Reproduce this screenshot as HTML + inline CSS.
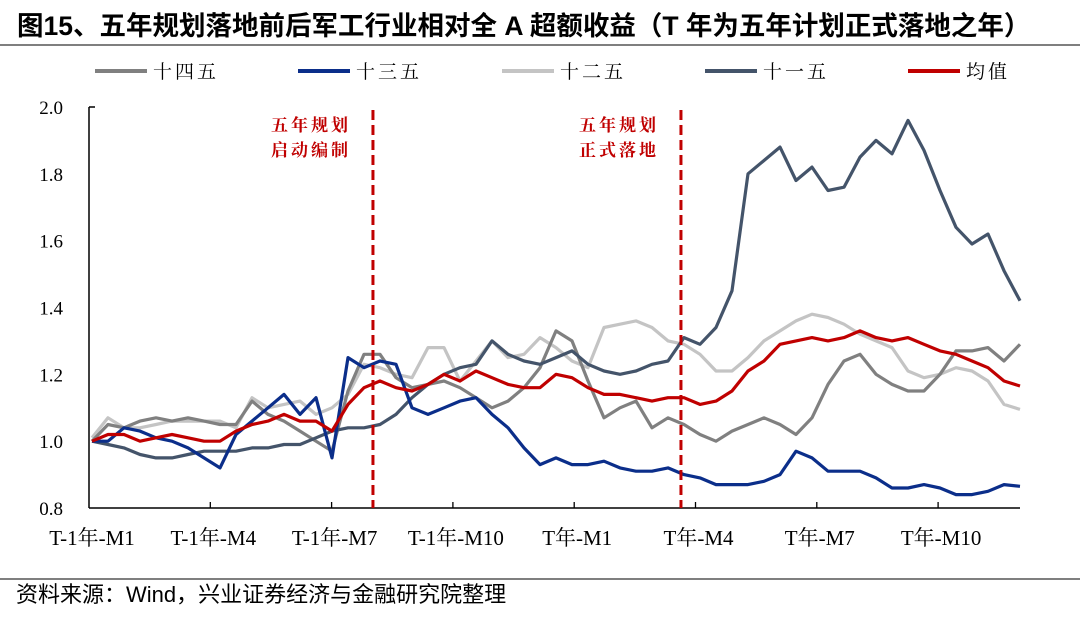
<!DOCTYPE html>
<html><head><meta charset="utf-8">
<style>
html,body{margin:0;padding:0;background:#fff;}
body{width:1080px;height:612px;overflow:hidden;position:relative;font-family:"Liberation Sans","Noto Sans CJK SC",sans-serif;}
</style></head>
<body>
<svg id="chart" width="1080" height="612" xmlns="http://www.w3.org/2000/svg">
<text x="17" y="35" font-size="26.5" font-weight="bold" fill="#000" font-family="Liberation Sans, Noto Sans CJK SC, sans-serif">图15、五年规划落地前后军工行业相对全 A 超额收益（T 年为五年计划正式落地之年）</text>
<line x1="0" y1="45" x2="1080" y2="45" stroke="#333" stroke-width="1.2"/>
<line x1="0" y1="579" x2="1080" y2="579" stroke="#333" stroke-width="1.2"/>
<text x="16" y="602" font-size="22" fill="#000" font-family="Liberation Sans, Noto Sans CJK SC, sans-serif">资料来源：Wind，兴业证券经济与金融研究院整理</text>
<g id="legend"></g>
<g id="axes"></g>
<g id="series"></g>
<g id="annot"></g>
</svg>
<script>
const yTicks = [0.8, 1.0, 1.2, 1.4, 1.6, 1.8, 2.0];
const yTickLabels = ["0.8","1.0","1.2","1.4","1.6","1.8","2.0"];
const xTickLabels = ["T-1年-M1","T-1年-M4","T-1年-M7","T-1年-M10","T年-M1","T年-M4","T年-M7","T年-M10"];
const seriesNames = ["十四五","十三五","十二五","十一五","均值"];
const s14 = [1.00,1.05,1.04,1.06,1.07,1.06,1.07,1.06,1.05,1.05,1.12,1.08,1.06,1.03,1.00,0.97,1.15,1.26,1.26,1.19,1.16,1.17,1.18,1.16,1.13,1.10,1.12,1.16,1.22,1.33,1.30,1.18,1.07,1.10,1.12,1.04,1.07,1.05,1.02,1.00,1.03,1.05,1.07,1.05,1.02,1.07,1.17,1.24,1.26,1.20,1.17,1.15,1.15,1.20,1.27,1.27,1.28,1.24,1.29];
const s13 = [1.00,1.00,1.04,1.03,1.01,1.00,0.98,0.95,0.92,1.02,1.06,1.10,1.14,1.08,1.13,0.95,1.25,1.22,1.24,1.23,1.10,1.08,1.10,1.12,1.13,1.08,1.04,0.98,0.93,0.95,0.93,0.93,0.94,0.92,0.91,0.91,0.92,0.90,0.89,0.87,0.87,0.87,0.88,0.90,0.97,0.95,0.91,0.91,0.91,0.89,0.86,0.86,0.87,0.86,0.84,0.84,0.85,0.87,0.865];
const s12 = [1.01,1.07,1.04,1.04,1.05,1.06,1.06,1.06,1.06,1.04,1.13,1.10,1.11,1.12,1.08,1.10,1.14,1.23,1.22,1.20,1.19,1.28,1.28,1.18,1.24,1.30,1.25,1.26,1.31,1.28,1.24,1.22,1.34,1.35,1.36,1.34,1.30,1.29,1.26,1.21,1.21,1.25,1.30,1.33,1.36,1.38,1.37,1.35,1.32,1.30,1.28,1.21,1.19,1.20,1.22,1.21,1.18,1.11,1.095];
const s11 = [1.00,0.99,0.98,0.96,0.95,0.95,0.96,0.97,0.97,0.97,0.98,0.98,0.99,0.99,1.01,1.03,1.04,1.04,1.05,1.08,1.13,1.17,1.20,1.22,1.23,1.30,1.26,1.24,1.23,1.25,1.27,1.23,1.21,1.20,1.21,1.23,1.24,1.31,1.29,1.34,1.45,1.80,1.84,1.88,1.78,1.82,1.75,1.76,1.85,1.90,1.86,1.96,1.87,1.75,1.64,1.59,1.62,1.51,1.42];
const sAvg = [1.00,1.02,1.02,1.00,1.01,1.02,1.01,1.00,1.00,1.03,1.05,1.06,1.08,1.06,1.06,1.03,1.11,1.16,1.18,1.16,1.15,1.17,1.20,1.18,1.21,1.19,1.17,1.16,1.16,1.20,1.19,1.16,1.14,1.14,1.13,1.12,1.13,1.13,1.11,1.12,1.15,1.21,1.24,1.29,1.30,1.31,1.30,1.31,1.33,1.31,1.30,1.31,1.29,1.27,1.26,1.24,1.22,1.18,1.165];
const markerIdx = [17.56, 36.81];
const markerText = [["五年规划","启动编制"],["五年规划","正式落地"]];

const NS = "http://www.w3.org/2000/svg";
const X0 = 92, X1 = 1020, Y0 = 508, Y1 = 107;
const nPts = s14.length;
function xs(i){ return X0 + i * (X1 - X0) / (nPts - 1); }
function ys(v){ return Y0 - (v - 0.8) * (Y0 - Y1) / 1.2; }
function mk(tag, attrs, parent){ const e = document.createElementNS(NS, tag); for (const k in attrs) e.setAttribute(k, attrs[k]); parent.appendChild(e); return e; }

const axes = document.getElementById('axes');
let a = mk('line', {x1:89,y1:Y1,x2:89,y2:Y0,stroke:'#000','stroke-width':1.5}, axes);


a = mk('line', {x1:89,y1:Y0,x2:X1,y2:Y0,stroke:'#000','stroke-width':1.5}, axes);


a = mk('line', {x1:89,y1:Y1,x2:95,y2:Y1,stroke:'#000','stroke-width':1.5}, axes);


yTicks.forEach((v, k) => {
  const t = mk('text', {x:63,y:ys(v)+7,'font-size':19,'text-anchor':'end','font-family':'Liberation Serif, serif',fill:'#000'}, axes);
  t.textContent = yTickLabels[k];
  
  
});
xTickLabels.forEach((lab, k) => {
  const x = 89 + k * 121.3;
  if (k > 0) {
    const tk = mk('line', {x1:x,y1:Y0-6,x2:x,y2:Y0,stroke:'#000','stroke-width':1.3}, axes);
    
    
  }
  const t = mk('text', {x:x+3,y:545,'font-size':21,'text-anchor':'middle','font-family':'Liberation Serif, Noto Serif CJK SC, serif',fill:'#000'}, axes);
  t.textContent = lab;
  
  
});

const colors = ['#808080','#0B2E8A','#C4C4C4','#44546A','#C00000'];
const data = [s14, s13, s12, s11, sAvg];
const order = [2, 0, 3, 1, 4];
const sg = document.getElementById('series');
order.forEach(k => {
  const d = data[k].map((v, i) => (i ? 'L' : 'M') + xs(i).toFixed(1) + ',' + ys(v).toFixed(1)).join(' ');
  const p = mk('path', {d:d,fill:'none',stroke:colors[k],'stroke-width':3.2,'stroke-linejoin':'round'}, sg);
  
  
});

const an = document.getElementById('annot');
markerIdx.forEach((m, k) => {
  const x = xs(m);
  const l = mk('line', {x1:x,y1:110,x2:x,y2:Y0,stroke:'#C00000','stroke-width':3,'stroke-dasharray':'10,5'}, an);
  
  
  markerText[k].forEach((s, j) => {
    const t = mk('text', {x:x-22,y:131+j*25,'font-size':17,'font-weight':'bold','text-anchor':'end','letter-spacing':'3',fill:'#C00000','font-family':'Noto Serif CJK SC, serif'}, an);
    t.textContent = s;
    
    
  });
});

const lg = document.getElementById('legend');
const legX = [95, 298, 502, 705, 908];
seriesNames.forEach((n, k) => {
  const g = mk('g', {}, lg);
  
  
  mk('line', {x1:legX[k],y1:71,x2:legX[k]+52,y2:71,stroke:colors[k],'stroke-width':4}, g);
  const t = mk('text', {x:legX[k]+58,y:78,'font-size':19,'letter-spacing':'3',fill:'#000','font-family':'Noto Serif CJK SC, serif'}, g);
  t.textContent = n;
});
</script>
</body></html>
